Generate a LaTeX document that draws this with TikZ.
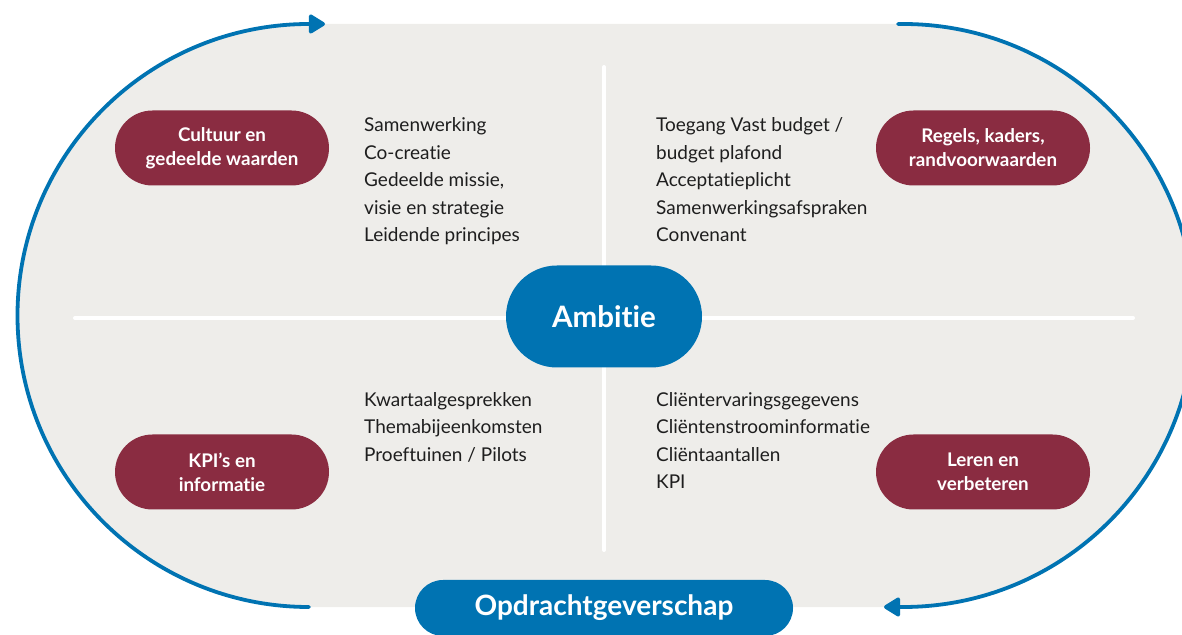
\documentclass[tikz,border=0pt]{standalone}
\usepackage{fontspec}
\setmainfont{Lato}[Ligatures={NoCommon,NoRequired,NoContextual}]
\usetikzlibrary{arrows.meta}
\definecolor{bggrey}{RGB}{238,237,234}
\definecolor{mblue}{RGB}{0,115,178}
\definecolor{mmaroon}{RGB}{138,44,65}
\definecolor{txtblack}{RGB}{30,30,30}
\tikzset{
  cyclearc/.style={draw=mblue, line width=3.8pt, line cap=round},
  cyclehead/.style={mblue, line width=3.8pt, -{Triangle[length=18pt,width=21pt,round]}},
  divider/.style={draw=white, line width=4pt, line cap=round},
  catpill/.style={fill=mmaroon, text=white, minimum width=214pt, minimum height=75pt,
    rounded corners=37.5pt, align=center, inner sep=0pt,
    font=\fontsize{18.8}{24}\selectfont\bfseries},
  bluepill/.style={fill=mblue, text=white, inner sep=0pt, font=\bfseries},
  item/.style={anchor=base west, inner sep=0pt, text=txtblack,
    font=\fontsize{19}{27.5}\selectfont}
}
\begin{document}
\begin{tikzpicture}[x=1pt,y=1pt]
\useasboundingbox (0,0) rectangle (1182,634);
\clip (0,0) rectangle (1182,634);
% background stadium
\fill[bggrey] (309,610) -- (903,610) arc[start angle=90,end angle=-90,radius=291.5]
  -- (309,27) arc[start angle=270,end angle=90,radius=291.5] -- cycle;
% cycle arcs
\coordinate (lstart) at (309,27);
\coordinate (ltop) at (309,610);
\coordinate (ltip) at (325,610);
\coordinate (rstart) at (898,610);
\coordinate (rbot) at (903,27);
\coordinate (rtip) at (884,27);
\draw[cyclearc] (lstart) arc[start angle=270,end angle=90,radius=291.5];
\draw[cyclehead] (ltop) ++(-4,0) -- (ltip);
\draw[cyclearc] (rstart) -- (903,610) arc[start angle=90,end angle=-90,radius=291.5];
\draw[cyclehead] (rbot) ++(4,0) -- (rtip);
% dividers
\coordinate (hl) at (75,316);
\coordinate (hr) at (1133,316);
\coordinate (vt) at (604,567);
\coordinate (vb) at (604,84);
\draw[divider] (hl) -- (hr);
\draw[divider] (vt) -- (vb);
% centre and bottom pills
\node[bluepill, minimum width=196pt, minimum height=102pt, rounded corners=51pt,
  font=\fontsize{29.5}{34}\selectfont\bfseries] (amb) at (604,317.5) {Ambitie};
\node[bluepill, minimum width=378pt, minimum height=56pt, rounded corners=28pt,
  font=\fontsize{28}{32}\selectfont\bfseries] (opd) at (604,26) {Opdrachtgeverschap};
% category pills
\node[catpill] (cul) at (222,486) {Cultuur en\\gedeelde waarden};
\node[catpill] (reg) at (983,486) {Regels, kaders,\\randvoorwaarden};
\node[catpill] (kpi) at (222,162) {KPI’s en\\informatie};
\node[catpill] (ler) at (983,162) {Leren en\\verbeteren};
% lists
\node[item] (tl1) at (364,502) {Samenwerking};
\node[item] (tl2) at (364,474.5) {Co-creatie};
\node[item] (tl3) at (364,447) {Gedeelde missie,};
\node[item] (tl4) at (364,419.5) {visie en strategie};
\node[item] (tl5) at (364,392) {Leidende principes};
\node[item] (tr1) at (656,502) {Toegang Vast budget /};
\node[item] (tr2) at (656,474.5) {budget plafond};
\node[item] (tr3) at (656,447) {Acceptatieplicht};
\node[item] (tr4) at (656,419.5) {Samenwerkingsafspraken};
\node[item] (tr5) at (656,392) {Convenant};
\node[item] (bl1) at (364,227.5) {Kwartaalgesprekken};
\node[item] (bl2) at (364,200) {Themabijeenkomsten};
\node[item] (bl3) at (364,172.5) {Proeftuinen / Pilots};
\node[item] (br1) at (656,227.5) {Cliëntervaringsgegevens};
\node[item] (br2) at (656,200) {Cliëntenstroominformatie};
\node[item] (br3) at (656,172.5) {Cliëntaantallen};
\node[item] (br4) at (656,145) {KPI};
\end{tikzpicture}
\end{document}
